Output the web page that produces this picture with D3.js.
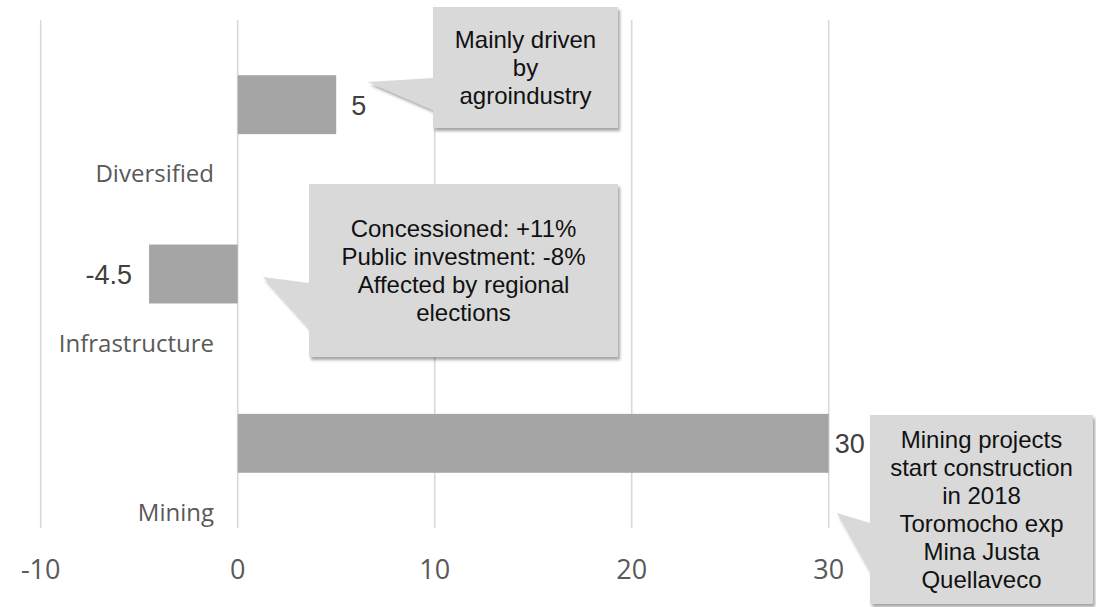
<!DOCTYPE html>
<html>
<head>
<meta charset="utf-8">
<script src="https://cdn.jsdelivr.net/npm/d3@7"></script>
<style>
  html, body { margin: 0; padding: 0; background: #ffffff; }
  svg { display: block; }
</style>
</head>
<body>
<svg id="chart" width="1096" height="607"></svg>
<script>
// Growth by investment segment (%)
const categories = ["Diversified", "Infrastructure", "Mining"];
const values = [5, -4.5, 30];
const valueLabels = ["5", "-4.5", "30"];
const tickValues = [-10, 0, 10, 20, 30];
const tickLabels = ["-10", "0", "10", "20", "30"];

// Annotation notes, one per segment
const noteLines = [
  ["Mainly driven", "by", "agroindustry"],
  ["Concessioned: +11%", "Public investment: -8%", "Affected by regional", "elections"],
  ["Mining projects", "start construction", "in 2018", "Toromocho exp", "Mina Justa", "Quellaveco"]
];

// ---- layout ----
const plotTop = 20, plotBottom = 528;
const svg = d3.select("#chart");

const x = d3.scaleLinear().domain([-10, 30]).range([40.7, 828.7]);
const y = d3.scaleBand().domain(categories).range([plotTop, plotBottom])
  .paddingInner(0.652).paddingOuter(0.326);
// bottom edge of a category's band
const bandEnd = d => y(d) + y.step() - (y.step() - y.bandwidth()) / 2;

// drop shadow for the note boxes
const defs = svg.append("defs");
const f = defs.append("filter").attr("id", "shadow")
  .attr("x", "-20%").attr("y", "-20%").attr("width", "140%").attr("height", "140%");
f.append("feDropShadow").attr("dx", 2).attr("dy", 3).attr("stdDeviation", 1.8)
  .attr("flood-color", "#000").attr("flood-opacity", 0.35);

// vertical gridlines
svg.append("g").selectAll("line").data(tickValues).join("line")
  .attr("x1", d => x(d)).attr("x2", d => x(d))
  .attr("y1", plotTop).attr("y2", plotBottom)
  .attr("stroke", "#d9d9d9").attr("stroke-width", 1.6);

// tick labels
svg.append("g").selectAll("text").data(tickValues).join("text")
  .attr("x", d => x(d)).attr("y", 579)
  .attr("text-anchor", "middle")
  .attr("font-family", "'Open Sans', sans-serif").attr("font-size", 27)
  .attr("fill", "#595959")
  .text((d, i) => tickLabels[i]);

// category labels, at the foot of each band
svg.append("g").selectAll("text").data(categories).join("text")
  .attr("x", 214)
  .attr("y", d => bandEnd(d) - 7)
  .attr("text-anchor", "end")
  .attr("font-family", "'Open Sans', sans-serif").attr("font-size", 24)
  .attr("fill", "#595959")
  .text(d => d);

// bars
svg.append("g").selectAll("rect").data(categories).join("rect")
  .attr("x", (d, i) => x(Math.min(0, values[i])))
  .attr("width", (d, i) => Math.abs(x(values[i]) - x(0)))
  .attr("y", d => y(d))
  .attr("height", y.bandwidth())
  .attr("fill", "#a5a5a5");

// value labels at the bar ends
const labelGap = [15, 17, 6];
svg.append("g").selectAll("text").data(categories).join("text")
  .attr("x", (d, i) => values[i] >= 0 ? x(values[i]) + labelGap[i] : x(values[i]) - labelGap[i])
  .attr("y", d => y(d) + y.bandwidth() / 2 + 10)
  .attr("text-anchor", (d, i) => values[i] >= 0 ? "start" : "end")
  .attr("font-family", "'Liberation Sans', Arial, sans-serif").attr("font-size", 27)
  .attr("fill", "#404040")
  .text((d, i) => valueLabels[i]);

// note callouts: box with a wedge pointing back towards the bar
const noteBoxes = [
  { left: 433, top: 7,   right: 618,  bottom: 128, b1: 78,  b2: 110, tipX: 368, tipY: 82 },
  { left: 309, top: 184, right: 618,  bottom: 357, b1: 283, b2: 328, tipX: 263, tipY: 277 },
  { left: 870, top: 415, right: 1093, bottom: 604, b1: 523, b2: 572, tipX: 837, tipY: 513 }
];
const lineH = 28;
const notes = svg.append("g");
noteBoxes.forEach((b, i) => {
  const g = notes.append("g");
  const p = d3.path();
  p.moveTo(b.left, b.top);
  p.lineTo(b.right, b.top);
  p.lineTo(b.right, b.bottom);
  p.lineTo(b.left, b.bottom);
  p.lineTo(b.left, b.b2);
  p.lineTo(b.tipX, b.tipY);
  p.lineTo(b.left, b.b1);
  p.closePath();
  g.append("path").attr("d", p.toString())
    .attr("fill", "#d9d9d9").attr("filter", "url(#shadow)");
  const lines = noteLines[i];
  const cx = (b.left + b.right) / 2;
  const cy = (b.top + b.bottom) / 2;
  const first = cy - (lines.length - 1) * lineH / 2;
  g.selectAll("text").data(lines).join("text")
    .attr("x", cx)
    .attr("y", (d, j) => first + j * lineH + 8)
    .attr("text-anchor", "middle")
    .attr("font-family", "'Liberation Sans', Arial, sans-serif").attr("font-size", 24)
    .attr("fill", "#111")
    .text(d => d);
});
</script>
</body>
</html>
